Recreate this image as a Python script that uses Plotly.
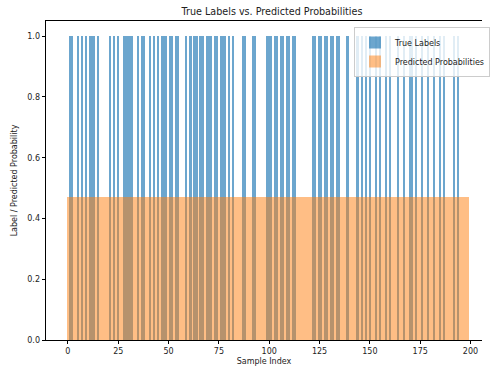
import plotly.graph_objects as go

n_samples = 200
ones_idx = [1, 2, 5, 7, 9, 11, 12, 13, 15, 21, 23, 25, 28, 29, 30, 31, 32, 35, 37, 38, 41, 43, 45,
            47, 48, 49, 51, 52, 54, 55, 59, 61, 63, 64, 66, 67, 69, 70, 71, 73, 74, 76, 77, 78, 80, 82,
            87, 88, 92, 93,
            99, 100, 101, 103, 104, 106, 107, 109, 110, 112, 113, 122, 123, 125, 126, 128, 129, 131,
            132, 134, 135, 139, 144, 146,
            148, 150, 153, 155, 158, 160, 164, 167, 170, 171, 173, 176, 179, 182, 185, 187, 192, 194]
sample_index = list(range(n_samples))
ones_set = set(ones_idx)
true_labels = [1 if i in ones_set else 0 for i in sample_index]
pred_value = 0.471
pred_probs = [pred_value] * n_samples

fig = go.Figure()
fig.add_trace(go.Bar(x=sample_index, y=true_labels, width=0.8, name="True Labels",
                     marker=dict(color="#1f77b4", line=dict(width=0)), opacity=0.65))
fig.add_trace(go.Bar(x=sample_index, y=pred_probs, width=0.8, name="Predicted Probabilities",
                     marker=dict(color="#ff7f0e", line=dict(width=0)), opacity=0.5))

W, H = 490, 366
L, R, T, B = 46, 0, 21, 26
pw = W - L - R
font_fam = "DejaVu Sans"
fig.update_layout(
    width=W, height=H, barmode="overlay", bargap=0,
    margin=dict(l=L, r=R, t=T, b=B, pad=0),
    paper_bgcolor="white", plot_bgcolor="white",
    font=dict(family=font_fam, size=8, color="#222"),
    title=dict(text="True Labels vs. Predicted Probabilities", x=272 / W,
               xanchor="center", y=1 - 12 / H, yanchor="middle", font=dict(size=9.6, color="#222")),
    showlegend=True,
    legend=dict(x=(360 - L) / pw, y=1 - 6 / (H - T - B), xanchor="left", yanchor="top",
                bgcolor="rgba(255,255,255,0.8)", bordercolor="#cccccc", borderwidth=1,
                font=dict(size=8, color="#222"), tracegroupgap=0, itemsizing="constant"),
    xaxis=dict(range=[-10.88, -10.88 + pw / 2.05], showgrid=False, zeroline=False,
               showline=True, linecolor="black", linewidth=0.8, mirror=True,
               ticks="outside", ticklen=3.5, tickwidth=0.8, tickcolor="black",
               tickvals=[0, 25, 50, 75, 100, 125, 150, 175, 200],
               tickfont=dict(size=8, color="#222"),
               title=dict(text="Sample Index", font=dict(size=8, color="#222"), standoff=4)),
    yaxis=dict(range=[0, 1.05], showgrid=False, zeroline=False,
               showline=True, linecolor="black", linewidth=0.8,
               ticks="outside", ticklen=3.5, tickwidth=0.8, tickcolor="black",
               tickvals=[0, 0.2, 0.4, 0.6, 0.8, 1.0], tickformat=".1f",
               tickfont=dict(size=8, color="#222"),
               title=dict(text="Label / Predicted Probability", font=dict(size=8, color="#222"), standoff=8)),
)
fig.write_html("out.html")
